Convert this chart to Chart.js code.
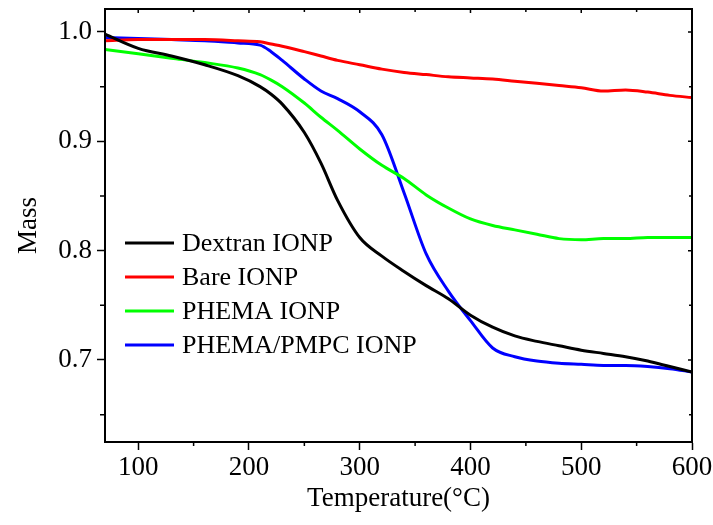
<!DOCTYPE html>
<html>
<head>
<meta charset="utf-8">
<script src="https://cdn.jsdelivr.net/npm/chart.js@4.4.1/dist/chart.umd.min.js"></script>
<style>
  html, body { margin: 0; padding: 0; background: #fff; }
  #wrap { width: 713px; height: 525px; }
</style>
</head>
<body>
<div id="wrap"><canvas id="tga"></canvas></div>
<script>
/* ========= DATA ========= */
const temps = [70, 100, 130, 160, 190, 210, 220, 230, 250, 265, 280, 300, 320, 340, 360, 380, 400, 420, 440, 460, 480, 500, 520, 540, 560, 580, 600];

const dextran = [0.998, 0.985, 0.978, 0.970, 0.960, 0.950, 0.943, 0.934, 0.908, 0.880, 0.846, 0.812, 0.795, 0.781, 0.768, 0.756, 0.741, 0.730, 0.722, 0.717, 0.713, 0.709, 0.706, 0.703, 0.699, 0.694, 0.689];
const bare    = [0.992, 0.993, 0.993, 0.993, 0.992, 0.991, 0.989, 0.987, 0.982, 0.978, 0.974, 0.970, 0.966, 0.963, 0.961, 0.959, 0.958, 0.957, 0.955, 0.953, 0.951, 0.949, 0.946, 0.947, 0.945, 0.942, 0.940];
const phema   = [0.984, 0.980, 0.976, 0.972, 0.967, 0.961, 0.956, 0.950, 0.935, 0.922, 0.910, 0.893, 0.878, 0.866, 0.851, 0.839, 0.829, 0.823, 0.819, 0.815, 0.811, 0.810, 0.811, 0.811, 0.812, 0.812, 0.812];
const pmpc    = [0.995, 0.994, 0.993, 0.992, 0.990, 0.988, 0.982, 0.974, 0.957, 0.946, 0.939, 0.927, 0.906, 0.853, 0.797, 0.763, 0.736, 0.711, 0.703, 0.699, 0.697, 0.696, 0.695, 0.695, 0.694, 0.692, 0.689];

const seriesNames = ["Dextran IONP", "Bare IONP", "PHEMA IONP", "PHEMA/PMPC IONP"];
const seriesColors = ["#000000", "#ff0000", "#00ff00", "#0000ff"];

const xTicks = [100, 200, 300, 400, 500, 600];
const yTicks = [0.7, 0.8, 0.9, 1.0];
const xMinor = [150, 250, 350, 450, 550];
const yMinor = [0.65, 0.75, 0.85, 0.95];

const FONT = "'Liberation Serif', 'Times New Roman', serif";

/* ========= PLUGINS ========= */
// box + minor / inward ticks
const frame = {
  id: "frame",
  afterDraw(chart) {
    const { ctx, chartArea: a, scales: { x, y } } = chart;
    ctx.save();
    ctx.strokeStyle = "#000";
    ctx.lineWidth = 2;
    ctx.strokeRect(a.left, a.top, a.right - a.left, a.bottom - a.top);
    ctx.beginPath();
    xMinor.forEach(v => {
      const px = x.getPixelForValue(v);
      ctx.moveTo(px, a.bottom); ctx.lineTo(px, a.bottom + 4);
      ctx.moveTo(px, a.top); ctx.lineTo(px, a.top + 3);
    });
    xTicks.forEach(v => {
      const px = x.getPixelForValue(v);
      ctx.moveTo(px, a.top); ctx.lineTo(px, a.top + 4);
    });
    yMinor.forEach(v => {
      const py = y.getPixelForValue(v);
      ctx.moveTo(a.left, py); ctx.lineTo(a.left - 5, py);
      ctx.moveTo(a.right, py); ctx.lineTo(a.right - 3, py);
    });
    yTicks.forEach(v => {
      const py = y.getPixelForValue(v);
      ctx.moveTo(a.right, py); ctx.lineTo(a.right - 4, py);
    });
    ctx.lineWidth = 1.5;
    ctx.stroke();
    ctx.restore();
  }
};

// legend inside the plot
const inLegend = {
  id: "inLegend",
  afterDatasetsDraw(chart) {
    const { ctx } = chart;
    ctx.save();
    ctx.font = "26px " + FONT;
    ctx.textBaseline = "middle";
    chart.data.datasets.forEach((ds, i) => {
      const yy = 243 + i * 34;
      ctx.strokeStyle = ds.borderColor;
      ctx.lineWidth = 3;
      ctx.beginPath();
      ctx.moveTo(125, yy); ctx.lineTo(174, yy);
      ctx.stroke();
      ctx.fillStyle = "#000";
      ctx.fillText(ds.label, 182, yy + 1);
    });
    ctx.restore();
  }
};

/* ========= CHART ========= */
const datasets = [dextran, bare, phema, pmpc].map((vals, i) => ({
  label: seriesNames[i],
  data: temps.map((t, j) => ({ x: t, y: vals[j] })),
  borderColor: seriesColors[i],
  borderWidth: 3,
  pointRadius: 0,
  cubicInterpolationMode: "monotone",
  fill: false
}));

new Chart(document.getElementById("tga"), {
  type: "line",
  data: { datasets },
  options: {
    responsive: true,
    maintainAspectRatio: false,
    animation: false,
    layout: { padding: { top: 9, right: 21, left: 0, bottom: 0 } },
    plugins: { legend: { display: false }, tooltip: { enabled: false } },
    scales: {
      x: {
        type: "linear",
        min: 70,
        max: 600,
        afterBuildTicks: s => { s.ticks = xTicks.map(v => ({ value: v })); },
        afterFit: s => { s.height = 83; s.paddingLeft = 0; s.paddingRight = 0; },
        grid: { drawOnChartArea: false, tickLength: 8, tickColor: "#000", tickWidth: 1.5 },
        border: { display: true, color: "#000", width: 2 },
        ticks: { color: "#000", padding: 2, maxRotation: 0, autoSkip: false, font: { family: FONT, size: 27 } },
        title: { display: true, text: "Temperature(°C)", color: "#000", padding: { top: 0, bottom: 10 }, font: { family: FONT, size: 27 } }
      },
      y: {
        min: 0.625,
        max: 1.021,
        afterBuildTicks: s => { s.ticks = yTicks.map(v => ({ value: v })); },
        afterFit: s => { s.width = 105; s.paddingTop = 0; s.paddingBottom = 0; },
        grid: { drawOnChartArea: false, tickLength: 8, tickColor: "#000", tickWidth: 1.5 },
        border: { display: true, color: "#000", width: 2 },
        ticks: { color: "#000", padding: 5, callback: v => v.toFixed(1), font: { family: FONT, size: 27 } },
        title: { display: true, text: "Mass", color: "#000", padding: { top: 13, bottom: 0 }, font: { family: FONT, size: 27 } }
      }
    }
  },
  plugins: [frame, inLegend]
});
</script>
</body>
</html>
